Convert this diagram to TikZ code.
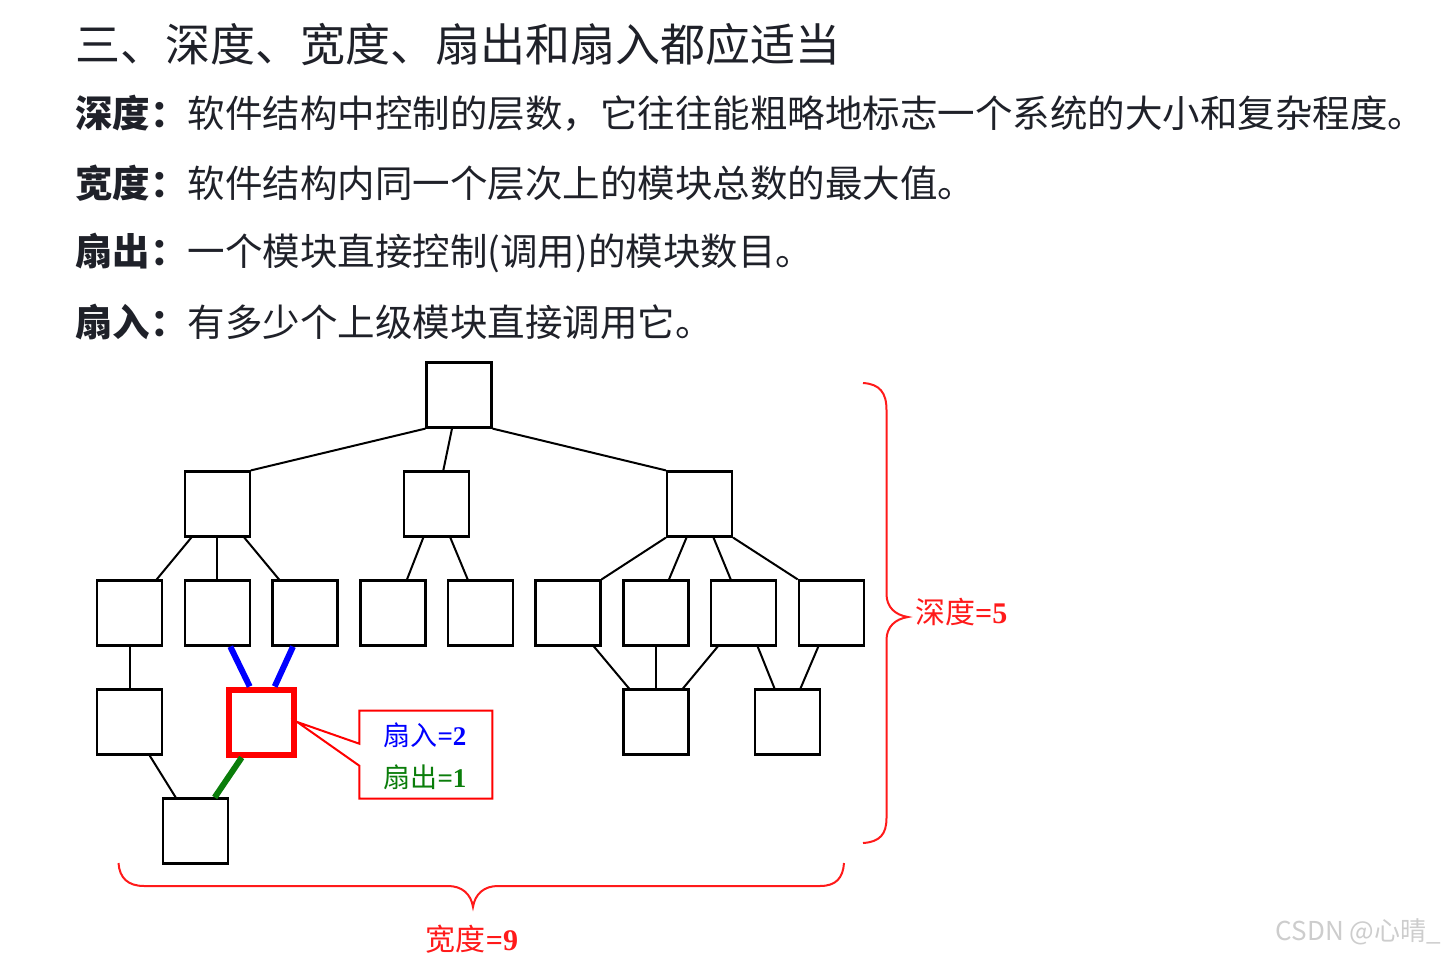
\documentclass[tikz,border=0pt]{standalone}
\usepackage{fontspec}
\setmainfont{Liberation Serif}
\newfontfamily\cjk{Noto Sans CJK SC}
\usetikzlibrary{calc}
\definecolor{ink}{HTML}{1F2129}
\definecolor{bracered}{HTML}{FF1A1A}
\definecolor{fanblue}{HTML}{0000FF}
\definecolor{fangreen}{HTML}{0A7D0A}
\definecolor{wm}{HTML}{CDCDCD}
\begin{document}
\begin{tikzpicture}[x=1pt,y=-1pt,
  box/.style={draw=black, line width=2.2pt, fill=white, minimum width=65pt, minimum height=65pt, inner sep=0pt},
  hot/.style={draw=red, line width=6pt, fill=white, minimum width=65pt, minimum height=65pt, inner sep=0pt},
  link/.style={line width=2pt, black},
  inlink/.style={line width=6pt, fanblue},
  outlink/.style={line width=6pt, fangreen},
  brace/.style={draw=bracered, line width=2pt},
  head/.style={anchor=west, inner sep=0pt, text=ink, font=\cjk\fontsize{37.5}{44}\selectfont},
  title/.style={anchor=west, inner sep=0pt, text=ink, font=\cjk\fontsize{45}{52}\selectfont},
  lab/.style={inner sep=0pt, font=\fontsize{30}{34}\selectfont},
  clab/.style={inner sep=0pt, font=\fontsize{27}{30}\selectfont}]
\fill[white] (0,0) rectangle (1444,958);
\useasboundingbox (0,0) rectangle (1444,958);

% texts
\node[title] (t0) at (75,45) {三、深度、宽度、扇出和扇入都应适当};
\node[head] (t1) at (75,113) {\textbf{深度：}软件结构中控制的层数，它往往能粗略地标志一个系统的大小和复杂程度。};
\node[head] (t2) at (75,183) {\textbf{宽度：}软件结构内同一个层次上的模块总数的最大值。};
\node[head] (t3) at (75,253) {\textbf{扇出：}一个模块直接控制(调用)的模块数目。};
\node[head] (t4) at (75,322) {\textbf{扇入：}有多少个上级模块直接调用它。};

% boxes
\node[box] (root) at (459,395) {};
\node[box] (A) at (217.3,504) {};
\node[box] (B) at (436.3,504) {};
\node[box] (C) at (699.5,504) {};
\node[box] (L1) at (129.7,613) {};
\node[box] (L2) at (217.3,613) {};
\node[box] (L3) at (305,613) {};
\node[box] (L4) at (393,613) {};
\node[box] (L5) at (480.7,613) {};
\node[box] (L6) at (568,613) {};
\node[box] (L7) at (656,613) {};
\node[box] (L8) at (743.7,613) {};
\node[box] (L9) at (831.3,613) {};
\node[box] (M1) at (129.7,722) {};
\node[hot] (M2) at (261.7,722) {};
\node[box] (M3) at (656,722) {};
\node[box] (M4) at (787.5,722) {};
\node[box] (N1) at (195.7,831) {};

% connectors
\draw[link] (root.south west) -- (A.north east);
\draw[link] ([xshift=-7pt]root.south) -- ([xshift=7pt]B.north);
\draw[link] (root.south east) -- (C.north west);
\draw[link] ([xshift=-26pt]A.south) -- ([xshift=27pt]L1.north);
\draw[link] (A.south) -- (L2.north);
\draw[link] ([xshift=27pt]A.south) -- ([xshift=-26pt]L3.north);
\draw[link] ([xshift=-13pt]B.south) -- ([xshift=14pt]L4.north);
\draw[link] ([xshift=14pt]B.south) -- ([xshift=-13pt]L5.north);
\draw[link] (C.south west) -- (L6.north east);
\draw[link] ([xshift=-13pt]C.south) -- ([xshift=13pt]L7.north);
\draw[link] ([xshift=14pt]C.south) -- ([xshift=-13pt]L8.north);
\draw[link] (C.south east) -- (L9.north west);
\draw[link] ([xshift=26pt]L6.south) -- ([xshift=-27pt]M3.north);
\draw[link] (L7.south) -- (M3.north);
\draw[link] ([xshift=-26pt]L8.south) -- ([xshift=27pt]M3.north);
\draw[link] ([xshift=14pt]L8.south) -- ([xshift=-13pt]M4.north);
\draw[link] ([xshift=-13pt]L9.south) -- ([xshift=13pt]M4.north);
\draw[link] (L1.south) -- (M1.north);
\draw[link] ([xshift=20pt]M1.south) -- ([xshift=-20pt]N1.north);
\draw[inlink] ([xshift=13pt]L2.south) -- ([xshift=-12pt]M2.north);
\draw[inlink] ([xshift=-12pt]L3.south) -- ([xshift=13pt]M2.north);
\draw[outlink] ([xshift=-20pt]M2.south) -- ([xshift=19pt]N1.north);

% callout
\node[minimum width=133pt, minimum height=88pt, inner sep=0pt, outer sep=0pt] (call) at (425.8,754.7) {};
\draw[red, line width=2pt, line join=miter] (call.north west) -- ([yshift=11pt]call.west) -- (M2.east) -- ([yshift=-11pt]call.west) -- (call.south west) -- (call.south east) -- (call.north east) -- cycle;
\node[clab, text=fanblue] (fin) at (425,735) {{\cjk 扇入}\textbf{=2}};
\node[clab, text=fangreen] (fout) at (425,777) {{\cjk 扇出}\textbf{=1}};

% right brace
\draw[brace] (863,383) .. controls (880,384) and (886.5,393) .. (886.5,410) -- (886.5,594)
  .. controls (886.5,607) and (895,615) .. (908,617) .. controls (895,619) and (886.5,627) .. (886.5,640)
  -- (886.5,818) .. controls (886.5,834) and (880,842) .. (863,843);
\node[lab, text=bracered, anchor=west] (depth) at (915,612) {{\cjk 深度}\textbf{=5}};

% bottom brace
\draw[brace] (118.5,863) .. controls (119.5,878) and (128,886) .. (144,886) -- (448,886)
  .. controls (462,886) and (471,894) .. (473,907) .. controls (475,894) and (484,886) .. (498,886)
  -- (820,886) .. controls (836,886) and (843,878) .. (844,863);
\node[lab, text=bracered] (width) at (472,939) {{\cjk 宽度}\textbf{=9}};

% watermark
\node[inner sep=0pt, anchor=east, text=wm, font=\cjk\fontsize{26}{30}\selectfont] (wmk) at (1441,932) {CSDN @心晴\_};
\end{tikzpicture}
\end{document}
